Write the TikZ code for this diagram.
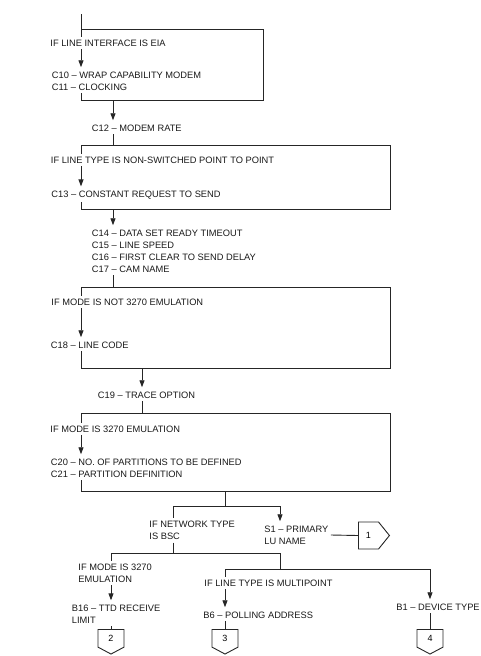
\documentclass[tikz,border=0pt]{standalone}
\usepackage{fontspec}
\setmainfont{Liberation Sans}
\usepackage{tikz}
\usetikzlibrary{calc,positioning,shapes.symbols,arrows.meta}

\begin{document}
\begin{tikzpicture}[
        x=1pt, y=-1pt,
        line width=0.9pt, draw=black!85,
        lbl/.style={anchor=west, align=left, inner xsep=2pt, inner ysep=2.5pt,
            font=\fontsize{9.3}{12}\selectfont, text=black!90},
        arr/.style={-{Triangle[length=7pt,width=5pt]}, shorten >=1.5pt},
        offpage/.style={draw, signal, signal from=nowhere, inner sep=0pt,
            font=\fontsize{9}{10}\selectfont},
        offdown/.style={offpage, signal to=south, signal pointer angle=124,
            minimum width=26pt, minimum height=19pt, anchor=north}
    ]
        \useasboundingbox (0,0) rectangle (481,656);

        % flow columns
        \coordinate (trunk) at (81,14);
        \coordinate (col2) at (113,0);
        \coordinate (col3) at (142,0);

        % loop boxes
        \coordinate (b1nw) at (81,29);  \coordinate (b1se) at (263,100);
        \coordinate (b2nw) at (81,145); \coordinate (b2se) at (390,209);
        \coordinate (b3nw) at (81,287); \coordinate (b3se) at (390,368);
        \coordinate (b4nw) at (81,413); \coordinate (b4se) at (390,491);

        % texts
        \node[lbl] (ifeia) at (48,43) {IF LINE INTERFACE IS EIA};
        \node[lbl] (c10) at (49.5,81) {C10 -- WRAP CAPABILITY MODEM\\C11 -- CLOCKING};
        \node[lbl] (c12) at (89.5,128) {C12 -- MODEM RATE};
        \node[lbl] (iflt) at (48.5,160) {IF LINE TYPE IS NON-SWITCHED POINT TO POINT};
        \node[lbl] (c13) at (49,195) {C13 -- CONSTANT REQUEST TO SEND};
        \node[lbl] (c14) at (89.5,251) {C14 -- DATA SET READY TIMEOUT\\C15 -- LINE SPEED\\
            C16 -- FIRST CLEAR TO SEND DELAY\\C17 -- CAM NAME};
        \node[lbl] (ifnot) at (49,302) {IF MODE IS NOT 3270 EMULATION};
        \node[lbl] (c18) at (48.5,345) {C18 -- LINE CODE};
        \node[lbl] (c19) at (95.5,395) {C19 -- TRACE OPTION};
        \node[lbl] (ifmode) at (48,429) {IF MODE IS 3270 EMULATION};
        \node[lbl] (c20) at (48.5,468) {C20 -- NO. OF PARTITIONS TO BE DEFINED\\C21 -- PARTITION DEFINITION};

        \node[lbl] (ifnet) at (147,530.5) {IF NETWORK TYPE\\IS BSC};
        \node[lbl] (s1) at (262,535) {S1 -- PRIMARY\\LU NAME};
        \node[lbl] (ifmode2) at (76,573) {IF MODE IS 3270\\EMULATION};
        \node[lbl] (b16) at (69.5,614) {B16 -- TTD RECEIVE\\LIMIT};
        \node[lbl] (iflm) at (202,583) {IF LINE TYPE IS MULTIPOINT};
        \node[lbl] (b6) at (201,615) {B6 -- POLLING ADDRESS};
        \node[lbl] (b1dev) at (394,607) {B1 -- DEVICE TYPE};

        % off-page connectors
        \node[offpage, signal to=east, signal pointer angle=102,
            minimum width=31pt, minimum height=27pt, anchor=west] (off1) at (358,535.5) {1};
        \node[offdown] (off2) at (111,629) {2};
        \node[offdown] (off3) at (225,629) {3};
        \node[offdown] (off4) at (430,629) {4};

        % box 1
        \draw (trunk) -- (ifeia.north -| trunk);
        \draw (b1nw) -| (b1se) -| (c10.south -| trunk);
        \draw[arr] (ifeia.south -| trunk) -- (c10.north -| trunk);
        \draw[arr] (b1se -| col2) -- (c12.north -| col2);
        \draw (c12.south -| col2) -- (b2nw -| col2);

        % box 2
        \draw (b2nw) -- (iflt.north -| trunk);
        \draw (b2nw) -| (b2se) -| (c13.south -| trunk);
        \draw[arr] (iflt.south -| trunk) -- (c13.north -| trunk);
        \draw[arr] (b2se -| col2) -- (c14.north -| col2);
        \draw (c14.south -| col2) -- (b3nw -| col2);

        % box 3
        \draw (b3nw) -- (ifnot.north -| trunk);
        \draw (b3nw) -| (b3se) -| (c18.south -| trunk);
        \draw[arr] (ifnot.south -| trunk) -- (c18.north -| trunk);
        \draw[arr] (b3se -| col3) -- (c19.north -| col3);
        \draw (c19.south -| col3) -- (b4nw -| col3);

        % box 4
        \draw (b4nw) -- (ifmode.north -| trunk);
        \draw (b4nw) -| (b4se) -| (c20.south -| trunk);
        \draw[arr] (ifmode.south -| trunk) -- (c20.north -| trunk);

        % network type branches
        \coordinate (split1) at (225,506);
        \coordinate (split2) at (173,553);
        \coordinate (split3) at (280,569);
        \draw (b4se -| split1) -- (split1);
        \draw (split1) -| (ifnet.north -| split2);
        \draw[arr] (split1) -| (s1.north -| split3);
        \draw (s1.east) -- (off1.west);
        \draw (ifnet.south -| split2) -- (split2);
        \draw (ifmode2.north -| off2) |- (split2 -| split3) -- (split3);
        \draw (iflm.north -| off3) |- (split3);
        \draw[arr] (split3) -| (b1dev.north -| off4);
        \draw[arr] (ifmode2.south -| off2) -- (b16.north -| off2);
        \draw (b16.south -| off2) -- (off2.north);
        \draw[arr] (iflm.south -| off3) -- (b6.north -| off3);
        \draw (b6.south -| off3) -- (off3.north);
        \draw (b1dev.south -| off4) -- (off4.north);
    \end{tikzpicture}
\end{document}
